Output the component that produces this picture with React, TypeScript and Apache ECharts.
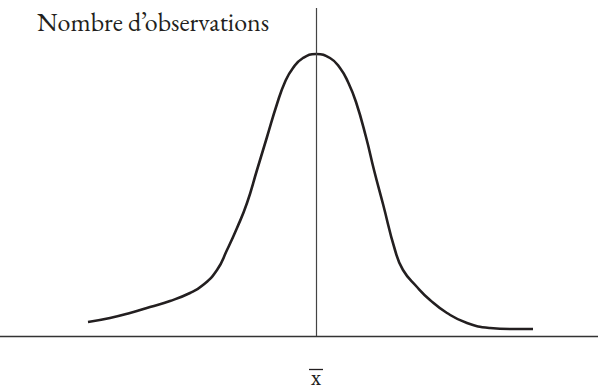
import React, { useEffect, useRef } from "react";
import * as echarts from "echarts";

// Offsets from the mean (x̄ = 0) and observed frequencies along the bell curve
const xOffsets = [
  -228, -206, -186, -166, -146, -126, -113, -99, -89, -79, -69, -59, -49, -39, -31, -23, -13, 0,
  14, 24, 32, 40, 50, 58, 67, 79, 87, 101, 114, 131, 151, 174, 194, 217,
];
const counts = [
  14, 18, 23, 29, 35, 43, 51, 66, 86, 108, 133, 166, 199, 232, 254, 268, 278, 282,
  278, 268, 254, 234, 199, 166, 132, 86, 66, 49, 36, 23, 13, 8, 7, 7,
];

const yLabel = "Nombre d\u2019observations";
const meanLabel = "x";

const SERIF = "'EB Garamond', Garamond, 'Liberation Serif', 'DejaVu Serif', serif";

export default function App() {
  const ref = useRef<HTMLDivElement>(null);

  useEffect(() => {
    if (!ref.current) return;
    const chart = echarts.init(ref.current, null, { renderer: "svg" });
    chart.setOption({
      animation: false,
      backgroundColor: "#ffffff",
      grid: { left: 0, right: 0, top: 8, bottom: 55, containLabel: false },
      xAxis: {
        type: "value",
        min: -316,
        max: 282,
        axisLine: { show: true, onZero: false, lineStyle: { color: "#333333", width: 1.4 } },
        axisTick: { show: false },
        axisLabel: { show: false },
        splitLine: { show: false },
      },
      yAxis: {
        type: "value",
        min: 0,
        max: 328,
        axisLine: { show: false },
        axisTick: { show: false },
        axisLabel: { show: false },
        splitLine: { show: false },
      },
      series: [
        {
          type: "line",
          data: xOffsets.map((x, i) => [x, counts[i]]),
          smooth: 0.5,
          showSymbol: false,
          lineStyle: { color: "#231f20", width: 2.6 },
          markLine: {
            silent: true,
            symbol: "none",
            label: { show: false },
            lineStyle: { color: "#444444", width: 1.2, type: "solid" },
            data: [{ xAxis: 0 }],
          },
        },
      ],
      graphic: [
        {
          type: "text",
          left: 37,
          top: 9,
          style: { text: yLabel, font: `26px ${SERIF}`, fill: "#231f20" },
        },
        {
          type: "text",
          x: 316,
          y: 376,
          style: {
            text: meanLabel,
            font: `24px ${SERIF}`,
            lineHeight: 18,
            fill: "#231f20",
            align: "center",
            verticalAlign: "middle",
          },
        },
        {
          type: "line",
          shape: { x1: 309, y1: 369.5, x2: 323, y2: 369.5 },
          style: { stroke: "#231f20", lineWidth: 1.3 },
        },
      ],
    });
    return () => chart.dispose();
  }, []);

  return (
    <div
      ref={ref}
      style={{ position: "fixed", left: 0, top: 0, width: 598, height: 391 }}
    />
  );
}
